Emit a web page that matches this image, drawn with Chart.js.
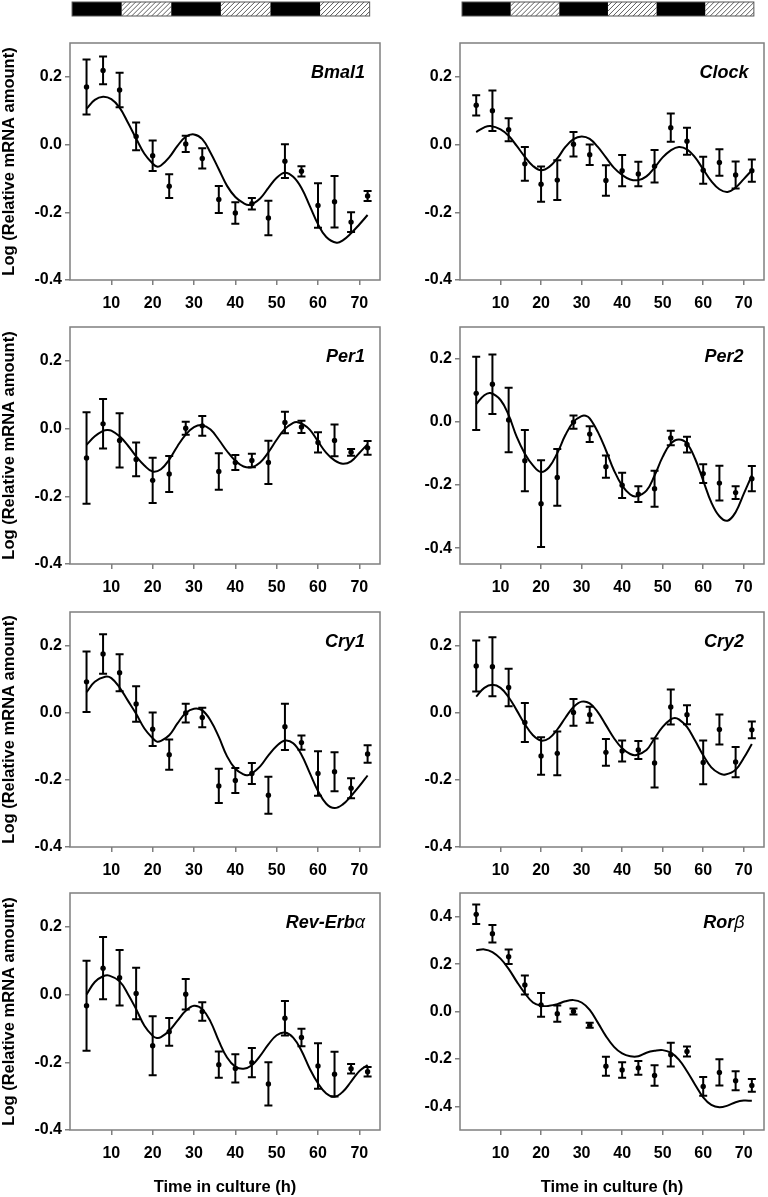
<!DOCTYPE html>
<html>
<head>
<meta charset="utf-8">
<script src="https://cdn.jsdelivr.net/npm/chart.js@4.4.1/dist/chart.umd.min.js"></script>
<style>
  body { margin: 0; background: #fff; width: 768px; height: 1197px; position: relative; overflow: hidden; }
  canvas { position: absolute; }
</style>
</head>
<body>
<script>
// sampling times (h) and axis ticks
var times = [4, 8, 12, 16, 20, 24, 28, 32, 36, 40, 44, 48, 52, 56, 60, 64, 68, 72];
var xTicks = [10, 20, 30, 40, 50, 60, 70];
var yTicks = [-0.4, -0.2, 0, 0.2, 0.4];

// light / dark bar over the top panels
var lightDarkEdges = [0.5, 12.5, 24.5, 36.5, 48.5, 60.5, 72.5];
var lightDarkPhase = ['dark', 'light', 'dark', 'light', 'dark', 'light'];

// mean and error of each gene, then the fitted curve as [time, value]
var bmal1Mean = [0.170, 0.219, 0.161, 0.024, -0.033, -0.123, 0.002, -0.041, -0.162, -0.202, -0.175, -0.217, -0.049, -0.079, -0.180, -0.169, -0.229, -0.152];
var bmal1Sem = [0.081, 0.041, 0.051, 0.041, 0.045, 0.035, 0.024, 0.030, 0.040, 0.032, 0.017, 0.051, 0.050, 0.015, 0.066, 0.076, 0.029, 0.015];
var bmal1Fit = [[4, 0.106], [6, 0.132], [8, 0.141], [10, 0.134], [12, 0.109], [14, 0.065], [16, 0.018], [18, -0.027], [20, -0.056], [21, -0.065], [22, -0.062], [24, -0.038], [26, -0.004], [28, 0.023], [30, 0.030], [32, 0.016], [34, -0.024], [36, -0.073], [38, -0.122], [40, -0.155], [42, -0.173], [43.5, -0.178], [46, -0.159], [48, -0.128], [50, -0.098], [52, -0.083], [54, -0.095], [56, -0.128], [58, -0.181], [60, -0.235], [62, -0.273], [64.5, -0.290], [66, -0.283], [68, -0.262], [70, -0.236], [72, -0.208]];

var clockMean = [0.116, 0.100, 0.044, -0.057, -0.117, -0.105, 0.001, -0.030, -0.106, -0.077, -0.087, -0.064, 0.050, 0.010, -0.076, -0.053, -0.090, -0.077];
var clockSem = [0.030, 0.060, 0.034, 0.050, 0.052, 0.059, 0.036, 0.030, 0.045, 0.046, 0.036, 0.048, 0.042, 0.040, 0.040, 0.039, 0.040, 0.033];
var clockFit = [[4, 0.037], [6, 0.051], [7.5, 0.055], [10, 0.045], [12, 0.026], [14, -0.004], [16, -0.036], [18, -0.063], [20, -0.076], [22, -0.066], [24, -0.041], [26, -0.007], [28, 0.016], [30, 0.024], [32, 0.017], [34, -0.007], [36, -0.038], [38, -0.069], [40, -0.090], [42, -0.103], [44, -0.105], [46, -0.094], [48, -0.068], [50, -0.038], [52, -0.017], [54, -0.007], [56, -0.014], [58, -0.038], [60, -0.073], [62, -0.108], [64, -0.132], [66, -0.140], [68, -0.127], [70, -0.102], [72, -0.076]];

var per1Mean = [-0.087, 0.014, -0.035, -0.091, -0.153, -0.134, 0.001, 0.008, -0.127, -0.100, -0.094, -0.100, 0.018, 0.005, -0.041, -0.035, -0.070, -0.057];
var per1Sem = [0.135, 0.073, 0.080, 0.050, 0.067, 0.053, 0.019, 0.029, 0.054, 0.022, 0.020, 0.064, 0.032, 0.018, 0.030, 0.047, 0.010, 0.020];
var per1Fit = [[4, -0.048], [6, -0.023], [8, -0.007], [9, -0.004], [10, -0.006], [12, -0.023], [14, -0.050], [16, -0.082], [18, -0.109], [20, -0.127], [22, -0.120], [24, -0.092], [26, -0.052], [28, -0.018], [30, 0.004], [32, 0.010], [34, -0.003], [36, -0.033], [38, -0.067], [40, -0.095], [42, -0.112], [44, -0.114], [46, -0.100], [48, -0.070], [50, -0.033], [52, -0.001], [54, 0.017], [55, 0.019], [56, 0.015], [58, -0.003], [60, -0.038], [62, -0.072], [64, -0.094], [66, -0.104], [68, -0.097], [70, -0.072], [72, -0.046]];

var per2Mean = [0.090, 0.119, 0.006, -0.123, -0.259, -0.176, -0.001, -0.039, -0.142, -0.201, -0.229, -0.212, -0.051, -0.072, -0.164, -0.194, -0.224, -0.180];
var per2Sem = [0.116, 0.094, 0.102, 0.097, 0.137, 0.090, 0.021, 0.025, 0.035, 0.040, 0.025, 0.057, 0.023, 0.025, 0.030, 0.055, 0.020, 0.040];
var per2Fit = [[4, 0.056], [6, 0.084], [7.5, 0.091], [10, 0.069], [12, 0.021], [14, -0.048], [16, -0.101], [18, -0.138], [20, -0.159], [22, -0.143], [24, -0.099], [26, -0.042], [28, 0.000], [30, 0.018], [31, 0.019], [32, 0.011], [34, -0.032], [36, -0.090], [38, -0.154], [40, -0.202], [42, -0.230], [43.5, -0.236], [46, -0.218], [48, -0.170], [50, -0.111], [52, -0.069], [54, -0.056], [56, -0.069], [58, -0.117], [60, -0.186], [62, -0.255], [64, -0.299], [66, -0.313], [68, -0.286], [70, -0.228], [72, -0.170]];

var cry1Mean = [0.092, 0.175, 0.119, 0.026, -0.049, -0.125, -0.001, -0.014, -0.218, -0.202, -0.181, -0.246, -0.042, -0.089, -0.181, -0.176, -0.225, -0.123];
var cry1Sem = [0.090, 0.059, 0.055, 0.053, 0.050, 0.045, 0.028, 0.029, 0.051, 0.037, 0.031, 0.055, 0.069, 0.021, 0.066, 0.058, 0.030, 0.026];
var cry1Fit = [[4, 0.061], [6, 0.092], [8.5, 0.107], [10, 0.103], [12, 0.075], [14, 0.036], [16, -0.003], [18, -0.047], [20, -0.076], [21, -0.086], [22, -0.084], [24, -0.067], [26, -0.032], [28, -0.001], [30, 0.012], [32, 0.007], [34, -0.023], [36, -0.072], [38, -0.130], [40, -0.167], [42, -0.184], [43, -0.186], [44, -0.181], [46, -0.160], [48, -0.127], [50, -0.099], [52, -0.083], [54, -0.091], [56, -0.125], [58, -0.179], [60, -0.233], [62, -0.271], [64, -0.284], [66, -0.273], [68, -0.248], [70, -0.219], [72, -0.187]];

var cry2Mean = [0.139, 0.137, 0.075, -0.029, -0.129, -0.121, 0.001, -0.006, -0.118, -0.114, -0.111, -0.150, 0.017, -0.006, -0.148, -0.050, -0.147, -0.051];
var cry2Sem = [0.076, 0.088, 0.056, 0.058, 0.056, 0.065, 0.040, 0.024, 0.040, 0.031, 0.027, 0.073, 0.052, 0.028, 0.065, 0.045, 0.045, 0.025];
var cry2Fit = [[4, 0.048], [6, 0.074], [8, 0.083], [10, 0.074], [12, 0.046], [14, 0.007], [16, -0.034], [18, -0.067], [20, -0.083], [22, -0.076], [24, -0.050], [26, -0.015], [28, 0.017], [30, 0.033], [32, 0.028], [34, 0.002], [36, -0.037], [38, -0.076], [40, -0.106], [42, -0.123], [43.5, -0.126], [46, -0.111], [48, -0.076], [50, -0.042], [52, -0.020], [53, -0.016], [54, -0.020], [56, -0.042], [58, -0.083], [60, -0.127], [62, -0.163], [64, -0.181], [65.5, -0.184], [68, -0.170], [70, -0.135], [72, -0.093]];

var revMean = [-0.033, 0.078, 0.050, 0.003, -0.151, -0.110, 0.001, -0.050, -0.207, -0.218, -0.201, -0.264, -0.070, -0.127, -0.211, -0.235, -0.219, -0.228];
var revSem = [0.133, 0.092, 0.082, 0.076, 0.087, 0.041, 0.045, 0.027, 0.039, 0.042, 0.043, 0.064, 0.051, 0.026, 0.067, 0.066, 0.014, 0.014];
var revFit = [[4, 0.000], [6, 0.037], [8, 0.054], [9.5, 0.056], [12, 0.039], [14, 0.002], [16, -0.043], [18, -0.092], [20, -0.122], [21, -0.128], [22, -0.126], [24, -0.107], [26, -0.077], [28, -0.048], [30, -0.033], [32, -0.043], [34, -0.080], [36, -0.137], [38, -0.186], [40, -0.213], [42, -0.219], [44, -0.209], [46, -0.181], [48, -0.147], [50, -0.120], [52, -0.112], [54, -0.127], [56, -0.166], [58, -0.219], [60, -0.262], [62, -0.292], [64, -0.302], [66, -0.287], [68, -0.257], [70, -0.226], [72, -0.208]];

var rorMean = [0.410, 0.328, 0.231, 0.112, 0.028, -0.009, 0.000, -0.058, -0.231, -0.247, -0.238, -0.270, -0.182, -0.169, -0.316, -0.257, -0.292, -0.312];
var rorSem = [0.041, 0.037, 0.031, 0.040, 0.050, 0.034, 0.013, 0.011, 0.040, 0.033, 0.029, 0.043, 0.050, 0.021, 0.040, 0.055, 0.040, 0.027];
var rorFit = [[4, 0.258], [6, 0.262], [8, 0.251], [10, 0.223], [12, 0.180], [14, 0.126], [16, 0.077], [18, 0.038], [20, 0.024], [22, 0.024], [24, 0.031], [26, 0.043], [28, 0.048], [30, 0.038], [32, 0.007], [34, -0.047], [36, -0.104], [38, -0.149], [40, -0.177], [42, -0.189], [44, -0.189], [46, -0.174], [48, -0.166], [50, -0.163], [52, -0.174], [54, -0.203], [56, -0.252], [58, -0.309], [60, -0.362], [62, -0.394], [64, -0.404], [66, -0.397], [68, -0.383], [70, -0.376], [72, -0.377]];

var panels = [
  { gene: 'Bmal1', greek: '', mean: bmal1Mean, sem: bmal1Sem, fit: bmal1Fit, yMin: -0.4, yMax: 0.3, col: 0, row: 0 },
  { gene: 'Clock', greek: '', mean: clockMean, sem: clockSem, fit: clockFit, yMin: -0.4, yMax: 0.3, col: 1, row: 0 },
  { gene: 'Per1', greek: '', mean: per1Mean, sem: per1Sem, fit: per1Fit, yMin: -0.4, yMax: 0.3, col: 0, row: 1 },
  { gene: 'Per2', greek: '', mean: per2Mean, sem: per2Sem, fit: per2Fit, yMin: -0.45, yMax: 0.3, col: 1, row: 1 },
  { gene: 'Cry1', greek: '', mean: cry1Mean, sem: cry1Sem, fit: cry1Fit, yMin: -0.4, yMax: 0.3, col: 0, row: 2 },
  { gene: 'Cry2', greek: '', mean: cry2Mean, sem: cry2Sem, fit: cry2Fit, yMin: -0.4, yMax: 0.3, col: 1, row: 2 },
  { gene: 'Rev-Erb', greek: 'α', mean: revMean, sem: revSem, fit: revFit, yMin: -0.4, yMax: 0.3, col: 0, row: 3 },
  { gene: 'Ror', greek: 'β', mean: rorMean, sem: rorSem, fit: rorFit, yMin: -0.5, yMax: 0.5, col: 1, row: 3 }
];

// page layout
var colLeft = [0, 390];
var colWidth = [390, 378];
var colRightPad = [10, 2];
var boxTop = [43, 327, 612, 893];
var boxBottom = [280, 564, 847, 1130];
var frameColor = '#7f7f7f';

Chart.defaults.font.family = '"Liberation Sans", Arial, sans-serif';
Chart.defaults.color = '#000';

var framePlugin = {
  id: 'frame',
  afterDraw: function(chart) {
    var a = chart.chartArea, ctx = chart.ctx;
    ctx.save();
    ctx.strokeStyle = frameColor;
    ctx.lineWidth = 1.5;
    ctx.strokeRect(a.left, a.top, a.right - a.left, a.bottom - a.top);
    ctx.restore();
  }
};

var errorBarPlugin = {
  id: 'errorBars',
  afterDatasetsDraw: function(chart) {
    var ds = chart.data.datasets[1];
    var xs = chart.scales.x, ys = chart.scales.y, ctx = chart.ctx;
    ctx.save();
    ctx.strokeStyle = '#000';
    ctx.lineWidth = 2;
    ds.data.forEach(function(pt, k) {
      var e = ds.sem[k];
      var px = xs.getPixelForValue(pt.x);
      var top = ys.getPixelForValue(pt.y + e);
      var bot = ys.getPixelForValue(pt.y - e);
      ctx.beginPath();
      ctx.moveTo(px, top); ctx.lineTo(px, bot);
      ctx.moveTo(px - 4, top); ctx.lineTo(px + 4, top);
      ctx.moveTo(px - 4, bot); ctx.lineTo(px + 4, bot);
      ctx.stroke();
    });
    ctx.restore();
  }
};

var genePlugin = {
  id: 'geneLabel',
  afterDraw: function(chart, args, opts) {
    var a = chart.chartArea, ctx = chart.ctx;
    var f1 = 'italic bold 18px "Liberation Sans"';
    var f2 = 'italic 18px "Liberation Sans"';
    ctx.save();
    ctx.font = f1;
    var w1 = ctx.measureText(opts.text).width;
    ctx.font = f2;
    var w2 = opts.greek ? ctx.measureText(opts.greek).width : 0;
    var w = w1 + w2;
    var x0 = opts.col === 0 ? a.right - 15 - w : a.right - 40 - w / 2;
    var y = a.top + 30;
    ctx.fillStyle = '#000';
    ctx.textBaseline = 'middle';
    ctx.textAlign = 'left';
    ctx.font = f1;
    ctx.fillText(opts.text, x0, y);
    if (opts.greek) {
      ctx.font = f2;
      ctx.fillText(opts.greek, x0 + w1, y);
    }
    ctx.restore();
  }
};

var lightDarkPlugin = {
  id: 'lightDark',
  afterDraw: function(chart, args, opts) {
    if (!opts.show) return;
    var xs = chart.scales.x, ctx = chart.ctx;
    var y0 = 2, y1 = 16;
    ctx.save();
    for (var k = 0; k < lightDarkPhase.length; k++) {
      var x0 = xs.getPixelForValue(lightDarkEdges[k]);
      var x1 = xs.getPixelForValue(lightDarkEdges[k + 1]);
      if (lightDarkPhase[k] === 'dark') {
        ctx.fillStyle = '#000';
        ctx.fillRect(x0, y0, x1 - x0, y1 - y0);
      } else {
        ctx.save();
        ctx.beginPath();
        ctx.rect(x0, y0, x1 - x0, y1 - y0);
        ctx.clip();
        ctx.strokeStyle = '#333';
        ctx.lineWidth = 0.8;
        ctx.beginPath();
        for (var h = x0 - 20; h < x1 + 20; h += 5) {
          ctx.moveTo(h, y1);
          ctx.lineTo(h + (y1 - y0), y0);
        }
        ctx.stroke();
        ctx.restore();
      }
    }
    ctx.strokeStyle = '#555';
    ctx.lineWidth = 1;
    var left = xs.getPixelForValue(lightDarkEdges[0]);
    var right = xs.getPixelForValue(lightDarkEdges[lightDarkEdges.length - 1]);
    ctx.strokeRect(left, y0, right - left, y1 - y0);
    ctx.restore();
  }
};

panels.forEach(function(p) {
  var padTop = p.row === 0 ? 43 : 17;
  var boxH = boxBottom[p.row] - boxTop[p.row];
  var xh = p.row === 3 ? 67 : 30;
  var canvas = document.createElement('canvas');
  canvas.width = colWidth[p.col];
  canvas.height = padTop + boxH + xh;
  canvas.style.left = colLeft[p.col] + 'px';
  canvas.style.top = (boxTop[p.row] - padTop) + 'px';
  document.body.appendChild(canvas);

  var tickGrid = { display: true, drawOnChartArea: false, drawTicks: true, tickLength: 5, color: frameColor, lineWidth: 1.5 };
  var tickFont = { size: 16, weight: 'bold' };

  new Chart(canvas.getContext('2d'), {
    type: 'scatter',
    data: {
      datasets: [{
        data: p.fit.map(function(d) { return { x: d[0], y: d[1] }; }),
        showLine: true,
        borderColor: '#000',
        borderWidth: 2,
        pointRadius: 0,
        tension: 0.4,
        fill: false
      }, {
        data: times.map(function(t, k) { return { x: t, y: p.mean[k] }; }),
        sem: p.sem,
        backgroundColor: '#000',
        borderColor: '#000',
        borderWidth: 0,
        pointRadius: 2.7
      }]
    },
    options: {
      responsive: false,
      animation: false,
      devicePixelRatio: 1,
      layout: { padding: { top: padTop, left: 0, right: colRightPad[p.col], bottom: 0 } },
      plugins: {
        legend: { display: false },
        tooltip: { enabled: false },
        geneLabel: { text: p.gene, greek: p.greek, col: p.col },
        lightDark: { show: p.row === 0 }
      },
      scales: {
        x: {
          type: 'linear',
          min: 0,
          max: 75,
          afterBuildTicks: function(s) { s.ticks = xTicks.map(function(v) { return { value: v }; }); },
          afterFit: function(s) { s.height = xh; },
          grid: tickGrid,
          border: { display: false },
          ticks: { font: tickFont, color: '#000', padding: 9, maxRotation: 0, autoSkip: false },
          title: {
            display: p.row === 3,
            text: 'Time in culture (h)',
            color: '#000',
            font: { size: 16.5, weight: 'bold' },
            padding: { top: 0, bottom: 0 }
          }
        },
        y: {
          min: p.yMin,
          max: p.yMax,
          afterBuildTicks: function(s) {
            s.ticks = yTicks.filter(function(v) { return v >= s.min - 1e-9 && v <= s.max + 1e-9; })
              .map(function(v) { return { value: v }; });
          },
          afterFit: function(s) { s.width = 70; },
          grid: tickGrid,
          border: { display: false },
          ticks: {
            font: tickFont,
            color: '#000',
            padding: 3,
            callback: function(v) { return (Math.abs(v) < 1e-9 ? 0 : v).toFixed(1); }
          },
          title: {
            display: p.col === 0,
            text: 'Log (Relative mRNA amount)',
            color: '#000',
            font: { size: 16.5, weight: 'bold' },
            padding: { top: 0, bottom: 0 }
          }
        }
      }
    },
    plugins: [framePlugin, errorBarPlugin, genePlugin, lightDarkPlugin]
  });
});
</script>
</body>
</html>
